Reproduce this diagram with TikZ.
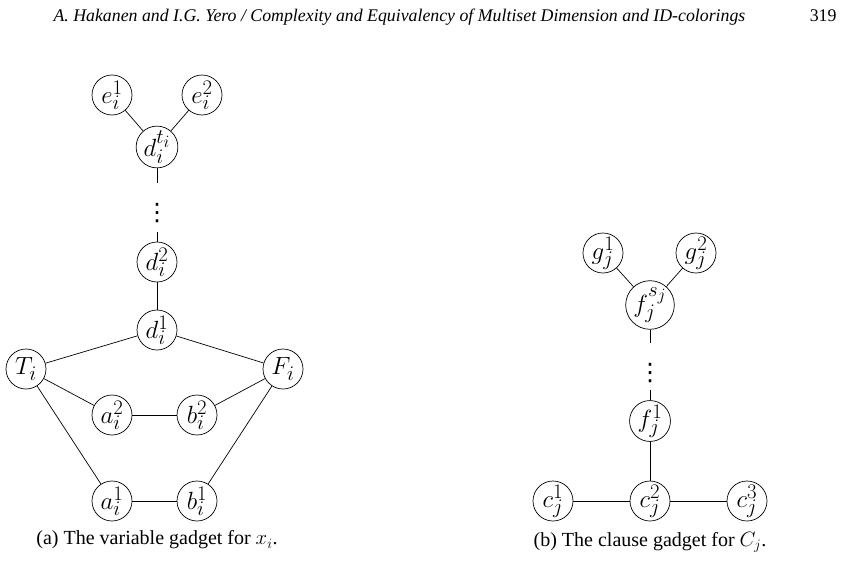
\documentclass[tikz,border=0pt]{standalone}
\usepackage{fontspec}
\setmainfont{Liberation Serif}
\newfontfamily\symfont{DejaVu Sans}
\begin{document}
\begin{tikzpicture}[x=1pt,y=-1pt,
  vtx/.style={draw,circle,minimum size=40pt,inner sep=0pt,line width=0.7pt,font=\fontsize{24.88}{28}\selectfont},
  edge/.style={line width=0.7pt},
  dotsnode/.style={inner sep=0pt,font=\fontsize{24}{26}\selectfont\symfont},
  captext/.style={font=\fontsize{20}{24}\selectfont},
  hdr/.style={font=\fontsize{17.8}{20}\selectfont\itshape}]
\useasboundingbox (0,0) rectangle (850,562);
\node[hdr,anchor=base west] (title) at (50,21) {A. Hakanen and I.G. Yero / Complexity and Equivalency of Multiset Dimension and ID-colorings};
\node[font=\fontsize{17.8}{20}\selectfont,anchor=base east] (page) at (840,21) {319};
% left gadget
\node[vtx] (e1) at (112,95) {$e_i^1$};
\node[vtx] (e2) at (202,95) {$e_i^2$};
\node[vtx] (dt) at (157,147) {$d_i^{t_i}$};
\coordinate (dA1) at (157,183);
\node[dotsnode] (vdA) at (157,213) {⋮};
\coordinate (dA2) at (157,232);
\node[vtx] (d2) at (157,262) {$d_i^2$};
\node[vtx] (d1) at (157,330) {$d_i^1$};
\node[vtx] (T) at (26,369) {$T_i$};
\node[vtx] (F) at (283,369) {$F_i$};
\node[vtx] (a2) at (112,415) {$a_i^2$};
\node[vtx] (b2) at (197,415) {$b_i^2$};
\node[vtx] (a1) at (112,501) {$a_i^1$};
\node[vtx] (b1) at (197,501) {$b_i^1$};
\draw[edge] (e1) -- (dt);
\draw[edge] (e2) -- (dt);
\draw[edge] (dt) -- (dA1);
\draw[edge] (dA2) -- (d2);
\draw[edge] (d2) -- (d1);
\draw[edge] (T) -- (d1);
\draw[edge] (F) -- (d1);
\draw[edge] (T) -- (a2);
\draw[edge] (a2) -- (b2);
\draw[edge] (b2) -- (F);
\draw[edge] (T) -- (a1);
\draw[edge] (a1) -- (b1);
\draw[edge] (b1) -- (F);
\node[captext] (capA) at (157,540) {(a) The variable gadget for $x_i$.};
% right gadget
\node[vtx] (g1) at (603,253) {$g_j^1$};
\node[vtx] (g2) at (696,253) {$g_j^2$};
\node[vtx] (fs) at (650,305) {$f_j^{s_j}$};
\coordinate (dB1) at (650,343);
\node[dotsnode] (vdB) at (650,373) {⋮};
\coordinate (dB2) at (650,390);
\node[vtx] (f1) at (650,421) {$f_j^1$};
\node[vtx] (c1) at (553,501) {$c_j^1$};
\node[vtx] (c2) at (650,501) {$c_j^2$};
\node[vtx] (c3) at (747,501) {$c_j^3$};
\draw[edge] (g1) -- (fs);
\draw[edge] (g2) -- (fs);
\draw[edge] (fs) -- (dB1);
\draw[edge] (dB2) -- (f1);
\draw[edge] (f1) -- (c2);
\draw[edge] (c1) -- (c2);
\draw[edge] (c2) -- (c3);
\node[captext] (capB) at (650,542) {(b) The clause gadget for $C_j$.};
\end{tikzpicture}
\end{document}
